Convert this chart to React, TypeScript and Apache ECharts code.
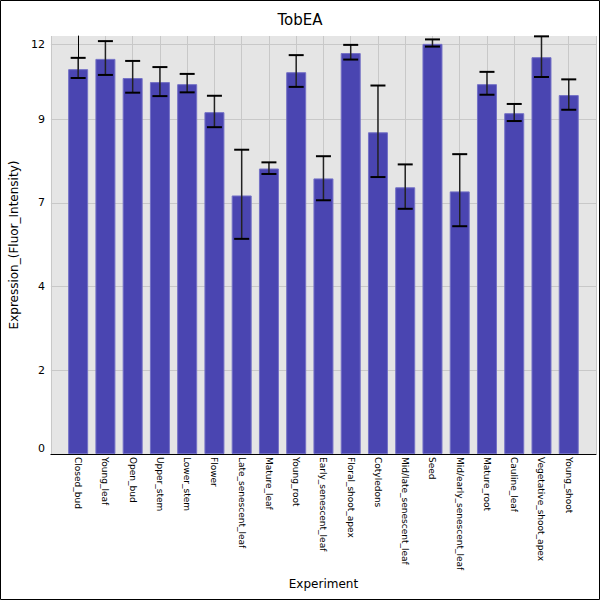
import { useEffect, useRef } from 'react'
import * as echarts from 'echarts'

// experiments on the x axis
const categories = [
  'Closed_bud', 'Young_leaf', 'Open_bud', 'Upper_stem', 'Lower_stem', 'Flower',
  'Late_senescent_leaf', 'Mature_leaf', 'Young_root', 'Early_senescent_leaf',
  'Floral_shoot_apex', 'Cotyledons', 'Mid/late_senescent_leaf', 'Seed',
  'Mid/early_senescent_leaf', 'Mature_root', 'Cauline_leaf', 'Vegetative_shoot_apex',
  'Young_shoot',
]
const expression = [11.27, 11.57, 11.01, 10.89, 10.83, 10.01, 7.57, 8.36, 11.18, 8.07, 11.74, 9.42, 7.81, 12.01, 7.69, 10.83, 9.98, 11.62, 10.51]
const errorLow = [11.01, 11.1, 10.58, 10.48, 10.59, 9.57, 6.3, 8.2, 10.75, 7.43, 11.55, 8.11, 7.18, 11.93, 6.67, 10.52, 9.75, 11.04, 10.08]
const errorHigh = [11.6, 12.09, 11.51, 11.33, 11.13, 10.49, 8.91, 8.54, 11.68, 8.72, 11.98, 10.79, 8.48, 12.14, 8.78, 11.19, 10.25, 12.23, 10.97]
const yTicks = [0, 2.45, 4.9, 7.35, 9.8, 12]

const FONT = 'DejaVu Sans'

export default function App() {
  const chartRef = useRef<HTMLDivElement>(null)

  useEffect(() => {
    if (!chartRef.current) return
    const chart = echarts.init(chartRef.current, null, { renderer: 'svg' })

    const barData = expression.map((v, i) => [i, v])
    const errData = categories.map((_, i) => [i, errorLow[i], errorHigh[i]])

    const option: echarts.EChartsOption = {
      animation: false,
      backgroundColor: '#fff',
      title: {
        text: 'TobEA',
        left: 'center',
        top: 12,
        padding: 0,
        textStyle: { fontFamily: FONT, fontSize: 15, fontWeight: 'normal', color: '#000' },
      },
      graphic: [
        {
          type: 'rect',
          shape: { x: 0.5, y: 0.5, width: 599, height: 599 },
          style: { fill: null, stroke: '#000', lineWidth: 1 },
          silent: true,
        },
      ],
      grid: {
        left: 50,
        right: 4,
        top: 36,
        bottom: 146,
        show: true,
        backgroundColor: '#e5e5e5',
        borderWidth: 0,
      },
      xAxis: {
        type: 'value',
        min: -1,
        max: 19,
        interval: 1,
        name: 'Experiment',
        nameLocation: 'middle',
        nameGap: 124,
        nameTextStyle: { fontFamily: FONT, fontSize: 12, color: '#000' },
        axisLine: { show: true, lineStyle: { color: '#000', width: 1 } },
        axisTick: { show: false },
        splitLine: { show: true, lineStyle: { color: '#c8c8c8', width: 1 } },
        axisLabel: {
          rotate: -90,
          margin: 3,
          fontFamily: FONT,
          fontSize: 9,
          color: '#000',
          showMinLabel: false,
          showMaxLabel: false,
          formatter: (v: number) => (v >= 0 && v < categories.length ? categories[v] : ''),
        },
      },
      yAxis: {
        type: 'value',
        min: 0,
        max: 12.24,
        name: 'Expression_(Fluor_Intensity)',
        nameLocation: 'middle',
        nameGap: 26,
        nameTextStyle: { fontFamily: FONT, fontSize: 12, color: '#000' },
        axisLine: { show: true, lineStyle: { color: '#000', width: 1 } },
        axisTick: { show: false, customValues: yTicks },
        splitLine: { show: true, lineStyle: { color: '#c8c8c8', width: 1 } },
        axisLabel: {
          customValues: yTicks,
          margin: 6,
          fontFamily: FONT,
          fontSize: 11,
          color: '#000',
          verticalAlignMinLabel: 'bottom',
          formatter: (v: number) => String(Math.floor(v)),
        },
      },
      series: [
        {
          type: 'bar',
          data: barData,
          barWidth: 20,
          itemStyle: { color: '#4a45b1', borderColor: '#7471c6', borderWidth: 1 },
          z: 2,
        },
        {
          type: 'custom',
          data: errData,
          z: 3,
          renderItem: (params: any, api: any) => {
            const x = api.value(0)
            const lo = api.coord([x, api.value(1)])
            const hi = api.coord([x, api.value(2)])
            const half = 7.5
            return {
              type: 'group',
              children: [
                {
                  type: 'line',
                  shape: { x1: lo[0], y1: lo[1], x2: hi[0], y2: hi[1] },
                  style: { stroke: '#222', lineWidth: 1.5 },
                },
                {
                  type: 'line',
                  shape: { x1: hi[0] - half, y1: hi[1], x2: hi[0] + half, y2: hi[1] },
                  style: { stroke: '#000', lineWidth: 2 },
                },
                {
                  type: 'line',
                  shape: { x1: lo[0] - half, y1: lo[1], x2: lo[0] + half, y2: lo[1] },
                  style: { stroke: '#000', lineWidth: 2 },
                },
              ],
            }
          },
        },
      ],
    }

    chart.setOption(option)

    return () => {
      chart.dispose()
    }
  }, [])

  return (
    <div
      ref={chartRef}
      style={{ position: 'absolute', left: 0, top: 0, width: '600px', height: '600px' }}
    />
  )
}
